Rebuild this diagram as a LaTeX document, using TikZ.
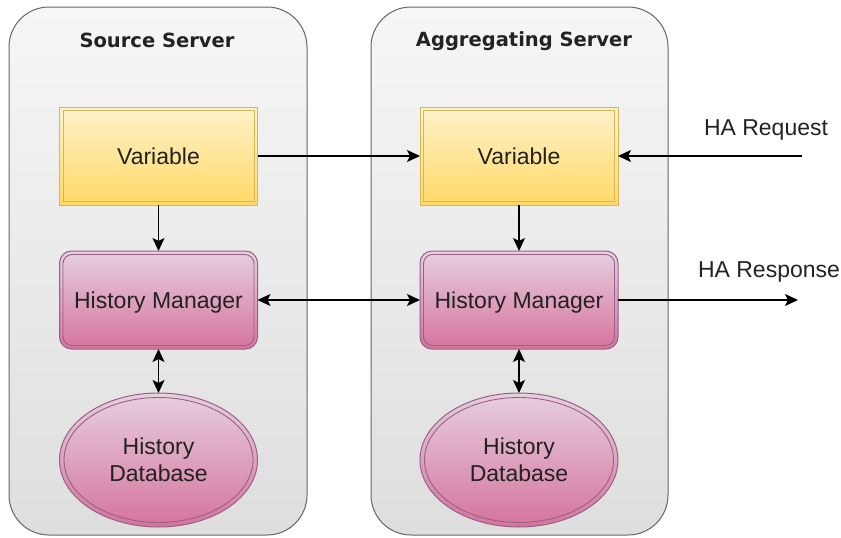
\documentclass[tikz,border=0pt]{standalone}
\usepackage{fontspec}
\setmainfont{Liberation Sans}
\newfontfamily\titlefont{DejaVu Sans}
\usetikzlibrary{arrows.meta,shapes.geometric}

\definecolor{srvtop}{HTML}{F6F6F6}
\definecolor{srvbot}{HTML}{DEDEDE}
\definecolor{srvline}{HTML}{666666}
\definecolor{vartop}{HTML}{FFF2CC}
\definecolor{varbot}{HTML}{FFD966}
\definecolor{varline}{HTML}{D6B656}
\definecolor{hmtop}{HTML}{E6D0DE}
\definecolor{hmbot}{HTML}{D5739D}
\definecolor{hmline}{HTML}{996185}
\definecolor{txt}{HTML}{222222}

\tikzset{
  server/.style={draw=srvline, line width=1pt, rounded corners=40pt,
    top color=srvtop, bottom color=srvbot},
  boxtext/.style={text=txt, font=\fontsize{23}{27}\selectfont},
  varbox/.style={rectangle, draw=varline, line width=1pt,
    top color=vartop, bottom color=varbot, inner sep=0pt, outer sep=0pt,
    minimum width=198pt, minimum height=98pt, text height=17pt, text depth=0pt,
    boxtext},
  hmbox/.style={rectangle, rounded corners=12pt, draw=hmline, line width=1pt,
    top color=hmtop, bottom color=hmbot, inner sep=0pt, outer sep=0pt,
    minimum width=198pt, minimum height=98pt, text height=17pt, text depth=0pt,
    boxtext},
  dbbox/.style={ellipse, draw=hmline, line width=1pt,
    top color=hmtop, bottom color=hmbot, inner sep=0pt, outer sep=0pt,
    minimum width=198pt, minimum height=134pt, align=center, boxtext},
  varinner/.style={draw=varline, line width=0.9pt},
  hminner/.style={draw=hmline, line width=0.9pt, rounded corners=9pt},
  tip/.tip={Stealth[length=13pt,width=12pt,inset=3pt]},
  conn/.style={draw=black, line width=1.4pt, -tip},
  bothconn/.style={draw=black, line width=1.4pt, tip-tip},
  title/.style={font=\titlefont\bfseries\fontsize{19.5}{24}\selectfont, text=txt},
  label/.style={font=\fontsize{23}{27}\selectfont, text=txt}
}

\begin{document}
\begin{tikzpicture}[x=1pt, y=-1pt]
\useasboundingbox (0,0) rectangle (841,538);

% server containers
\path[server] (9,7) rectangle (307,535);
\path[server] (371,7) rectangle (668,535);
\node[title] (t1) at (157,40) {Source Server};
\node[title] (t2) at (524,41) {Aggregating Server};

% variables
\node[varbox] (v1) at (158.5,156) {Variable};
\node[varbox] (v2) at (519,156) {Variable};

% history managers
\node[hmbox] (hm1) at (158.5,300) {History Manager};
\node[hmbox] (hm2) at (519,300) {History Manager};

% history databases
\node[dbbox] (db1) at (158.5,460) {History\\Database};
\node[dbbox] (db2) at (519,460) {History\\Database};

% inner outlines (double borders)
\foreach \n in {v1,v2}{
  \draw[varinner] ([xshift=3.5pt,yshift=-3.5pt]\n.north west) rectangle ([xshift=-3.5pt,yshift=3.5pt]\n.south east);
}
\foreach \n in {hm1,hm2}{
  \draw[hminner] ([xshift=3.5pt,yshift=-3.5pt]\n.north west) rectangle ([xshift=-3.5pt,yshift=3.5pt]\n.south east);
}
\foreach \n in {db1,db2}{
  \draw[draw=hmline, line width=0.9pt] (\n.center) ellipse [x radius=94.5pt, y radius=62.5pt];
}

% external endpoints
\coordinate (req) at (802,156);
\coordinate (resp) at (798,300);
\node[label] (reqlbl) at (766,130) {HA Request};
\node[label] (resplbl) at (769,272) {HA Response};

% connectors
\draw[conn] (v1) -- (v2);
\draw[conn] (req) -- (v2);
\draw[conn] (v1) -- (hm1);
\draw[conn] (v2) -- (hm2);
\draw[bothconn] (hm1) -- (hm2);
\draw[conn] (hm2) -- (resp);
\draw[bothconn] (hm1) -- (db1);
\draw[bothconn] (hm2) -- (db2);
\end{tikzpicture}
\end{document}
